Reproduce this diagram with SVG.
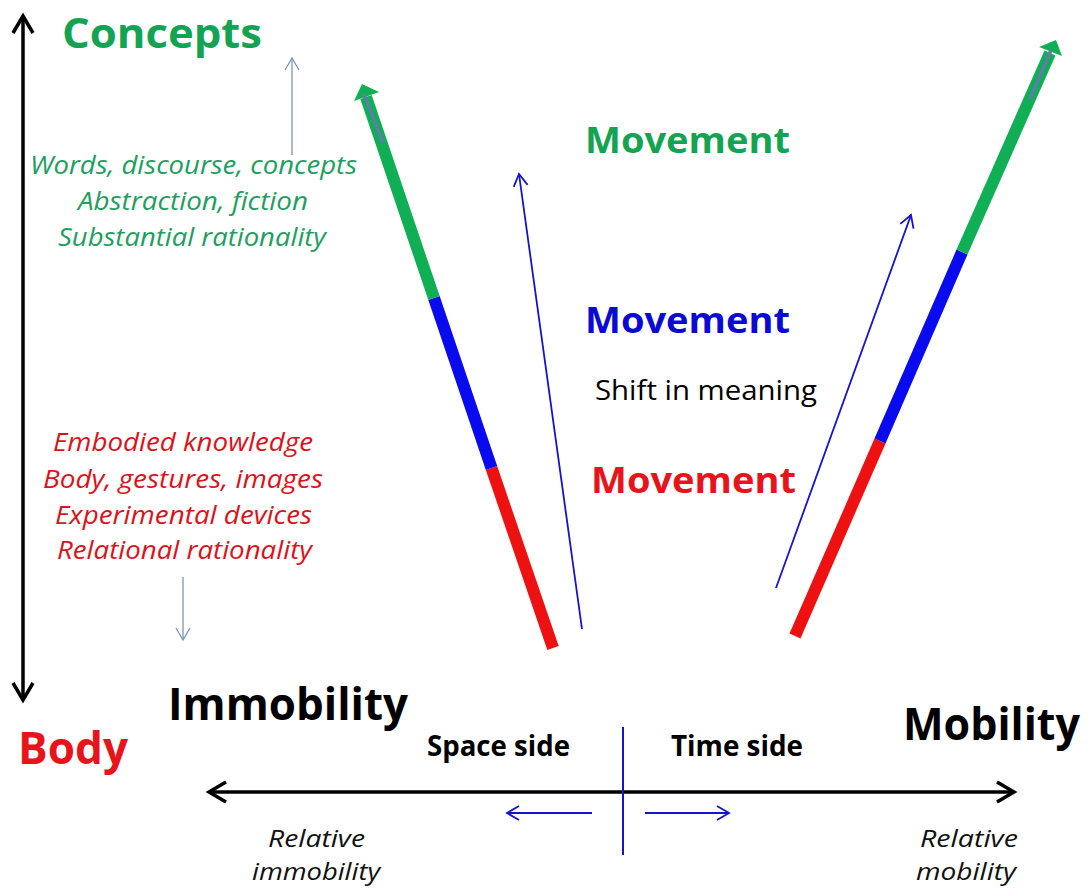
<svg xmlns="http://www.w3.org/2000/svg" width="1090" height="889" viewBox="0 0 1090 889">
<defs>
<style>
.b{font-family:"Open Sans","Liberation Sans",Arial,sans-serif;font-weight:bold}
.r{font-family:"Open Sans","Liberation Sans",Arial,sans-serif}
.i{font-family:"Open Sans","Liberation Sans",Arial,sans-serif;font-style:italic}
.gr{fill:#14A352}
.gi{fill:#1E9E60}
.ri{fill:#D8141C}
.thin{stroke:#1414C8;stroke-width:1.8;fill:none}
.blk{stroke:#000;stroke-width:3.5;fill:none}
</style>
<marker id="mkB" markerUnits="userSpaceOnUse" markerWidth="24" markerHeight="24" refX="19" refY="12" orient="auto-start-reverse" viewBox="0 0 24 24">
<path d="M2,2 L19,12 L2,22" fill="none" stroke="#000" stroke-width="3.5"/>
</marker>
<marker id="mkT" markerUnits="userSpaceOnUse" markerWidth="16" markerHeight="18" refX="13" refY="9" orient="auto" viewBox="0 0 16 18">
<path d="M1,2 L13,9 L1,16" fill="none" stroke="#1414C8" stroke-width="1.8"/>
</marker>
<marker id="mkG" markerUnits="userSpaceOnUse" markerWidth="16" markerHeight="18" refX="13" refY="9" orient="auto" viewBox="0 0 16 18">
<path d="M1,2 L13,9 L1,16" fill="none" stroke="#7F93B5" stroke-width="1.3"/>
</marker>
</defs>
<rect width="1090" height="889" fill="#fff"/>

<g id="connectors">
<line class="blk" x1="23" y1="16" x2="23" y2="700" marker-start="url(#mkB)" marker-end="url(#mkB)"/>
<line class="blk" x1="209" y1="792" x2="1014" y2="792" marker-start="url(#mkB)" marker-end="url(#mkB)"/>
<line x1="292" y1="155" x2="292" y2="58" stroke="#7F93B5" stroke-width="1.3" marker-end="url(#mkG)"/>
<line x1="183" y1="577" x2="183" y2="640" stroke="#7F93B5" stroke-width="1.3" marker-end="url(#mkG)"/>
<g id="left-thick">
<line x1="553" y1="648" x2="491.5" y2="468" stroke="#EE1111" stroke-width="12"/>
<line x1="491.5" y1="468" x2="434" y2="298" stroke="#0A0AEE" stroke-width="12"/>
<line x1="434" y1="298" x2="366" y2="97" stroke="#10AE55" stroke-width="12"/>
<polygon points="362,84 379,92 354,101" fill="#10AE55"/>
<line x1="364" y1="94" x2="383" y2="143" stroke="#5A80A8" stroke-width="3.5"/>
</g>
<g id="right-thick">
<line x1="795" y1="636" x2="880" y2="441" stroke="#EE1111" stroke-width="12"/>
<line x1="880" y1="441" x2="962" y2="252" stroke="#0A0AEE" stroke-width="12"/>
<line x1="962" y1="252" x2="1050" y2="53" stroke="#10AE55" stroke-width="12"/>
<polygon points="1056,40 1062,56 1039,47" fill="#10AE55"/>
<line x1="1051" y1="50" x2="1030" y2="99" stroke="#5A80A8" stroke-width="3.5"/>
</g>
<line class="thin" x1="582" y1="629" x2="519" y2="174" marker-end="url(#mkT)"/>
<line class="thin" x1="776" y1="588" x2="911" y2="215" marker-end="url(#mkT)"/>
<line x1="623" y1="727" x2="623" y2="855" stroke="#1414C8" stroke-width="2"/>
<line class="thin" x1="592" y1="813" x2="507" y2="813" marker-end="url(#mkT)"/>
<line class="thin" x1="645" y1="813" x2="729" y2="813" marker-end="url(#mkT)"/>
</g>

<g id="concepts"><text class="b gr" x="62" y="48" font-size="42" textLength="200" lengthAdjust="spacingAndGlyphs">Concepts</text></g>
<g id="body"><text class="b" fill="#E8141C" x="18" y="764" font-size="44" textLength="110" lengthAdjust="spacingAndGlyphs">Body</text></g>

<g id="concept-list" class="i gi" font-size="25">
<text x="30" y="174" textLength="327" lengthAdjust="spacingAndGlyphs">Words, discourse, concepts</text>
<text x="78" y="210" textLength="230" lengthAdjust="spacingAndGlyphs">Abstraction, fiction</text>
<text x="58" y="246" textLength="268" lengthAdjust="spacingAndGlyphs">Substantial rationality</text>
</g>

<g id="body-list" class="i ri" font-size="25">
<text x="53" y="451" textLength="260" lengthAdjust="spacingAndGlyphs">Embodied knowledge</text>
<text x="43" y="488" textLength="280" lengthAdjust="spacingAndGlyphs">Body, gestures, images</text>
<text x="55" y="524" textLength="257" lengthAdjust="spacingAndGlyphs">Experimental devices</text>
<text x="57" y="559" textLength="255" lengthAdjust="spacingAndGlyphs">Relational rationality</text>
</g>

<g id="movement-green"><text class="b gr" x="585" y="153" font-size="36" textLength="205" lengthAdjust="spacingAndGlyphs">Movement</text></g>
<g id="movement-blue"><text class="b" fill="#0A0AD2" x="585" y="333" font-size="36" textLength="205" lengthAdjust="spacingAndGlyphs">Movement</text></g>
<g id="shift"><text class="r" fill="#000" x="595" y="400" font-size="27" textLength="222" lengthAdjust="spacingAndGlyphs">Shift in meaning</text></g>
<g id="movement-red"><text class="b" fill="#E8141C" x="591" y="493" font-size="36" textLength="205" lengthAdjust="spacingAndGlyphs">Movement</text></g>

<g id="immobility"><text class="b" fill="#000" x="168" y="720" font-size="45" textLength="240" lengthAdjust="spacingAndGlyphs">Immobility</text></g>
<g id="mobility"><text class="b" fill="#000" x="903" y="740" font-size="44" textLength="177" lengthAdjust="spacingAndGlyphs">Mobility</text></g>

<g id="space-side"><text class="b" fill="#000" x="427" y="756" font-size="29" textLength="143" lengthAdjust="spacingAndGlyphs">Space side</text></g>
<g id="time-side"><text class="b" fill="#000" x="671" y="756" font-size="29" textLength="132" lengthAdjust="spacingAndGlyphs">Time side</text></g>

<g id="relative-immobility" class="i" fill="#111" font-size="23">
<text x="268" y="847" textLength="97" lengthAdjust="spacingAndGlyphs">Relative</text>
<text x="252" y="880" textLength="128" lengthAdjust="spacingAndGlyphs">immobility</text>
</g>
<g id="relative-mobility" class="i" fill="#111" font-size="23">
<text x="920" y="847" textLength="98" lengthAdjust="spacingAndGlyphs">Relative</text>
<text x="916" y="880" textLength="100" lengthAdjust="spacingAndGlyphs">mobility</text>
</g>
</svg>
